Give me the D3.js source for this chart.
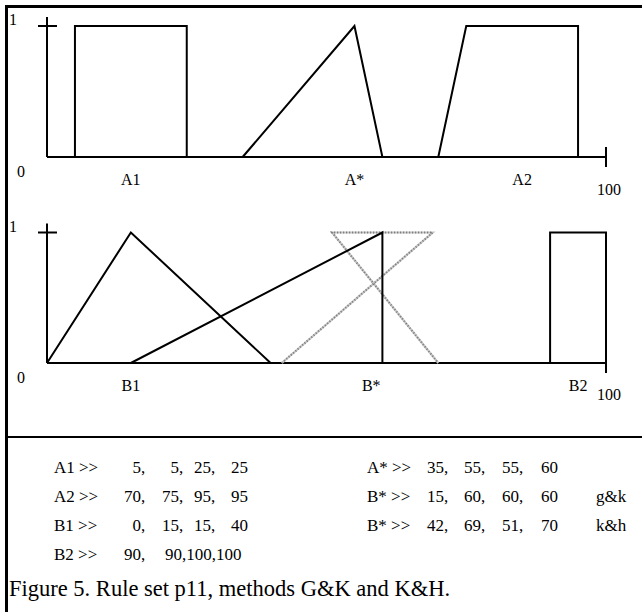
<!DOCTYPE html>
<html>
<head>
<meta charset="utf-8">
<script src="https://cdn.jsdelivr.net/npm/d3@7"></script>
<style>
  html, body { margin: 0; padding: 0; background: #fff; }
  svg { display: block; }
  text { font-family: "Liberation Serif", "Times New Roman", serif; fill: #000; }
</style>
</head>
<body>
<svg id="chart" width="642" height="612"></svg>
<script>
// ---- data ----
const membership = [0, 1, 1, 0];
const A1 = [5, 5, 25, 25];
const Astar = [35, 55, 55, 60];
const A2 = [70, 75, 95, 95];
const B1 = [0, 15, 15, 40];
const B2 = [90, 90, 100, 100];
const BstarGK = [15, 60, 60, 60];
const BstarKH = [42, 69, 51, 70];
const topLabels = ["A1", "A*", "A2"];
const topLabelAt = [15, 55, 85];
const bottomLabels = ["B1", "B*", "B2"];
const bottomLabelAt = [15, 58, 95];
const yTickLabels = ["0", "1"];
const xEndLabel = "100";
const leftRows = [["A1", A1], ["A2", A2], ["B1", B1], ["B2", B2]];
const rightRows = [["A*", Astar, ""], ["B*", BstarGK, "g&k"], ["B*", BstarKH, "k&h"]];
const caption = "Figure 5. Rule set p11, methods G&K and K&H.";

// ---- drawing ----
const svg = d3.select("#chart");
const x = d3.scaleLinear().domain([0, 100]).range([47, 606]);

// frame
svg.append("line").attr("x1", 6.5).attr("x2", 6.5).attr("y1", 5).attr("y2", 612)
  .attr("stroke", "#000").attr("stroke-width", 3);
svg.append("line").attr("x1", 5).attr("x2", 642).attr("y1", 6.5).attr("y2", 6.5)
  .attr("stroke", "#000").attr("stroke-width", 3);

function panel(yRange, sets, grey, labels, labelAt, cfg) {
  const y = d3.scaleLinear().domain([0, 1]).range(yRange);
  const g = svg.append("g");
  const line = d3.line().x(d => x(d[0])).y(d => y(d[1]));
  // axes
  g.append("line").attr("x1", x(0)).attr("x2", x(0)).attr("y1", y(1) - 9).attr("y2", y(0))
    .attr("stroke", "#000").attr("stroke-width", 2);
  g.append("line").attr("x1", x(0) - 9).attr("x2", x(0) + 10).attr("y1", y(1)).attr("y2", y(1))
    .attr("stroke", "#000").attr("stroke-width", 2);
  g.append("line").attr("x1", x(0)).attr("x2", x(100)).attr("y1", y(0)).attr("y2", y(0))
    .attr("stroke", "#000").attr("stroke-width", 2);
  g.append("line").attr("x1", x(100)).attr("x2", x(100)).attr("y1", y(0) - 10).attr("y2", y(0) + 10)
    .attr("stroke", "#000").attr("stroke-width", 2);
  // grey (k&h) shape
  grey.forEach(p => {
    const pts = p.map((v, i) => [v, membership[i]]);
    g.append("path").attr("d", line(pts)).attr("fill", "none")
      .attr("stroke", "#c8c8c8").attr("stroke-width", 2.2);
    g.append("path").attr("d", line(pts)).attr("fill", "none")
      .attr("stroke", "#808080").attr("stroke-width", 2).attr("stroke-dasharray", "1.2,1.8");
  });
  // black shapes
  sets.forEach(p => {
    const pts = p.map((v, i) => [v, membership[i]]);
    g.append("path").attr("d", line(pts)).attr("fill", "none")
      .attr("stroke", "#000").attr("stroke-width", 2).attr("stroke-linejoin", "miter");
  });
  // texts
  g.append("text").attr("x", 9).attr("y", cfg.oneY).attr("font-size", 16).text(yTickLabels[1]);
  g.append("text").attr("x", 17).attr("y", cfg.zeroY).attr("font-size", 16).text(yTickLabels[0]);
  g.append("text").attr("x", x(100) - 9).attr("y", y(0) + cfg.hundredDy).attr("font-size", 16).text(xEndLabel);
  labels.forEach((t, i) => {
    g.append("text").attr("x", x(labelAt[i])).attr("y", y(0) + 28)
      .attr("text-anchor", "middle").attr("font-size", 16).text(t);
  });
}

panel([157, 26], [A1, Astar, A2], [], topLabels, topLabelAt, {oneY: 25, zeroY: 177, hundredDy: 38});
panel([363, 232.5], [B1, BstarGK, B2], [BstarKH], bottomLabels, bottomLabelAt, {oneY: 232, zeroY: 383, hundredDy: 37});

// separator
svg.append("line").attr("x1", 8).attr("x2", 642).attr("y1", 437).attr("y2", 437)
  .attr("stroke", "#000").attr("stroke-width", 2);

// parameter table
const rowY = [473, 502, 531, 560];
const leftCols = [141, 179, 211, 248];
const rightCols = [444, 481, 519, 558];
const fs = 17;
function row(label, vals, suffix, yy, labelX, cols, suffixX) {
  svg.append("text").attr("x", labelX).attr("y", yy).attr("font-size", fs).text(label + " >>");
  const wide = vals.some(v => v >= 100);
  if (wide) {
    // typed as "90, 90,100,100" in the original (packed after the first value)
    svg.append("text").attr("x", cols[0]).attr("y", yy).attr("font-size", fs)
      .attr("text-anchor", "end").text(vals[0]);
    svg.append("text").attr("x", cols[0]).attr("y", yy).attr("font-size", fs).text(",");
    svg.append("text").attr("x", cols[1] - 14).attr("y", yy).attr("font-size", fs)
      .text(vals.slice(1).join(","));
  } else {
    vals.forEach((v, i) => {
      svg.append("text").attr("x", cols[i]).attr("y", yy).attr("font-size", fs)
        .attr("text-anchor", "end").text(v);
      if (i < vals.length - 1)
        svg.append("text").attr("x", cols[i]).attr("y", yy).attr("font-size", fs).text(",");
    });
  }
  if (suffix) svg.append("text").attr("x", suffixX).attr("y", yy).attr("font-size", fs).text(suffix);
}
leftRows.forEach((r, i) => row(r[0], r[1], "", rowY[i], 54, leftCols, 0));
rightRows.forEach((r, i) => row(r[0], r[1], r[2], rowY[i], 367, rightCols, 596));

svg.append("text").attr("x", 9).attr("y", 596).attr("font-size", 22.5).text(caption);
</script>
</body>
</html>
